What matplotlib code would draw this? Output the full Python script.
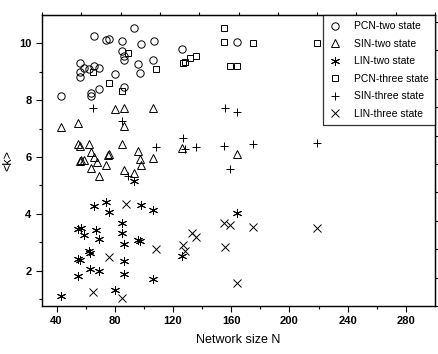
import numpy as np
import matplotlib
matplotlib.use('Agg')
import matplotlib.pyplot as plt

# Data: network size N and mean degree <k>
pcn2_n = [43, 66, 74, 76, 93, 85, 107, 98, 126, 85, 86, 86, 106, 96, 97, 80,
          56, 59, 62, 66, 69, 56, 56, 69, 64, 64, 86, 164]
pcn2_k = [8.14, 10.26, 10.12, 10.14, 10.53, 10.08, 10.08, 9.99, 9.79, 9.74, 9.56, 9.41,
          9.41, 9.26, 8.95, 8.93, 9.31, 9.12, 9.10, 9.21, 9.13, 8.99, 8.82, 8.40,
          8.24, 8.16, 8.47, 10.06]

sin2_n = [43, 55, 80, 86, 106, 86, 55, 56, 62, 64, 66, 68, 75, 76, 74, 85, 96, 97,
          98, 106, 126, 56, 57, 59, 64, 69, 86, 93, 164]
sin2_k = [7.04, 7.18, 7.68, 7.71, 7.73, 7.09, 6.45, 6.39, 6.44, 6.16, 5.99, 5.82, 6.07,
          6.10, 5.73, 6.44, 6.22, 5.94, 5.70, 5.97, 6.32, 5.85, 5.88, 5.89, 5.60, 5.33,
          5.54, 5.42, 6.09]

lin2_n = [43, 55, 57, 59, 55, 56, 55, 62, 63, 63, 69, 66, 74, 76, 67, 69, 85, 85, 86,
          86, 86, 80, 96, 97, 98, 106, 106, 126, 93, 164]
lin2_k = [1.10, 3.45, 3.49, 3.24, 2.39, 2.37, 1.81, 2.70, 2.61, 2.06, 1.99, 4.27, 4.40,
          4.07, 3.43, 3.11, 3.66, 3.33, 2.93, 2.35, 1.88, 1.31, 3.07, 3.05, 4.32, 4.13,
          1.71, 2.51, 5.15, 4.01]

pcn3_n = [89, 108, 76, 85, 65, 128, 127, 132, 136, 155, 155, 175, 219, 159, 164]
pcn3_k = [9.67, 9.10, 8.59, 8.33, 9.00, 9.35, 9.30, 9.47, 9.55, 10.55, 10.06, 10.01,
          10.01, 9.20, 9.20]

sin3_n = [65, 85, 89, 108, 127, 128, 136, 155, 156, 164, 159, 175, 219]
sin3_k = [7.73, 7.27, 5.34, 6.34, 6.65, 6.28, 6.35, 6.37, 7.71, 7.59, 5.57, 6.44, 6.50]

lin3_n = [88, 76, 65, 85, 108, 133, 136, 127, 128, 155, 159, 156, 164, 175, 219]
lin3_k = [4.34, 2.49, 1.25, 1.04, 2.75, 3.33, 3.19, 2.90, 2.69, 3.69, 3.60, 2.83, 1.57,
          3.54, 3.49]

labels = ['PCN-two state', 'SIN-two state', 'LIN-two state',
          'PCN-three state', 'SIN-three state', 'LIN-three state']

plt.rcParams['font.family'] = ['Liberation Sans', 'DejaVu Sans']

fig = plt.figure(figsize=(4.38, 3.54), dpi=100)
ax = fig.add_axes([42/438, 1-306/354, 393/438, 291/354])

style = dict(ls='none', mfc='none', mec='k', color='k', mew=0.7)
ax.plot(pcn2_n, pcn2_k, marker='o', ms=5.3, label=labels[0], **style)
ax.plot(sin2_n, sin2_k, marker='^', ms=5.8, label=labels[1], **style)
ax.plot(lin2_n, lin2_k, marker=(6, 2, 0), ms=6.5, label=labels[2], **style)
ax.plot(pcn3_n, pcn3_k, marker='s', ms=4.5, label=labels[3], **style)
ax.plot(sin3_n, sin3_k, marker='+', ms=6, label=labels[4], **style)
ax.plot(lin3_n, lin3_k, marker='x', ms=6, label=labels[5], **style)

ax.set_xlim(30, 300)
ax.set_ylim(0.75, 11.0)
ax.set_xticks(np.arange(40, 281, 40))
ax.set_xticks(np.arange(60, 300, 40), minor=True)
ax.set_yticks(np.arange(2, 11, 2))
ax.set_yticks(np.arange(1, 11, 2), minor=True)
ax.tick_params(which='major', direction='out', length=4, width=0.8, labelsize=8)
ax.tick_params(which='minor', direction='out', length=2.5, width=0.8)
for t in ax.get_xticklabels() + ax.get_yticklabels():
    t.set_fontweight('bold')

# mirrored ticks on top and right, without labels
top = ax.secondary_xaxis('top')
top.set_xticks(np.linspace(30, 300, 11))
top.tick_params(direction='out', length=2.5, width=0.8, labeltop=False)
right = ax.secondary_yaxis('right')
right.set_yticks(np.arange(0.75, 11.0, 1.0))
right.tick_params(direction='out', length=2.5, width=0.8, labelright=False)

for s in ax.spines.values():
    s.set_linewidth(1.0)

ax.set_xlabel('Network size N', fontsize=9)
ax.xaxis.set_label_coords(0.5, -0.095)
ax.set_ylabel('<k>', fontsize=9)
ax.yaxis.set_label_coords(-0.07, 0.5)

leg = ax.legend(loc='upper right', bbox_to_anchor=(1.0, 1.0), borderaxespad=0,
                fontsize=7.5, frameon=True, fancybox=False, edgecolor='k',
                labelspacing=0.72, handlelength=1.2, handletextpad=1.2,
                borderpad=0.6)
leg.get_frame().set_linewidth(0.9)

fig.savefig('out.png', dpi=100, facecolor='w')
